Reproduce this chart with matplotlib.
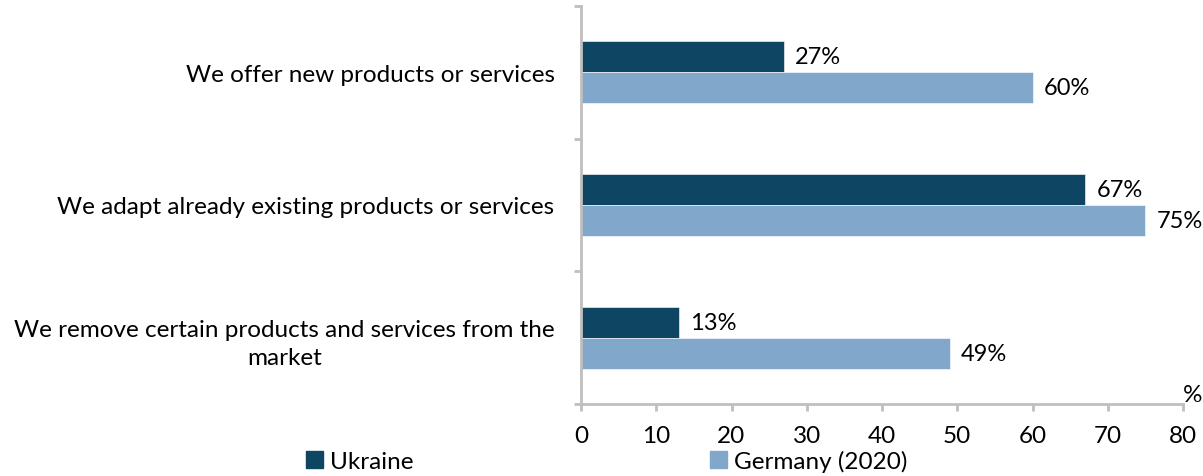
import matplotlib
matplotlib.use("Agg")
import matplotlib.pyplot as plt
from matplotlib.patches import Patch
import numpy as np

categories = [
    "We offer new products or services",
    "We adapt already existing products or services",
    "We remove certain products and services from the\nmarket",
]
ukraine = [27, 67, 13]
germany = [60, 75, 49]
series_names = ["Ukraine", "Germany (2020)"]
x_ticks = [0, 10, 20, 30, 40, 50, 60, 70, 80]

c_ukr = "#0E4563"
c_ger = "#81A7CB"
axis_grey = "#BFBFBF"
font = "Lato"
fs = 17.5
fs_val = 17

plt.rcParams["font.family"] = [font, "DejaVu Sans"]

fig = plt.figure(figsize=(12.03, 4.77), dpi=100)
ax = fig.add_axes([581 / 1203, 72 / 477, 602 / 1203, 398 / 477])

y = np.arange(len(categories))
h = 0.234
ax.barh(y - h / 2, ukraine, height=h, color=c_ukr, edgecolor="white", linewidth=0.4)
ax.barh(y + h / 2, germany, height=h, color=c_ger, edgecolor="white", linewidth=0.4)

for yi, v in zip(y, ukraine):
    ax.annotate(f"{v}%", (v, yi - h / 2), xytext=(8, 0), textcoords="offset points",
                va="center", ha="left", fontsize=fs_val)
for yi, v in zip(y, germany):
    ax.annotate(f"{v}%", (v, yi + h / 2), xytext=(8, 0), textcoords="offset points",
                va="center", ha="left", fontsize=fs_val)

ax.set_xlim(0, 80)
ax.set_ylim(len(categories) - 0.5, -0.5)
ax.set_xticks(x_ticks)
ax.set_xticklabels([str(t) for t in x_ticks], fontsize=fs)
ax.set_yticks(y)
ax.set_yticklabels(categories, fontsize=fs, ha="right", multialignment="center",
                   linespacing=1.45)
ax.set_yticks(np.arange(-0.5, len(categories)), minor=True)

for s in ["top", "right"]:
    ax.spines[s].set_visible(False)
for s in ["left", "bottom"]:
    ax.spines[s].set_color(axis_grey)
    ax.spines[s].set_linewidth(2)

ax.tick_params(axis="y", which="major", length=0, pad=19)
ax.tick_params(axis="y", which="minor", length=5, width=2, color=axis_grey, direction="out")
ax.tick_params(axis="x", length=5, width=2, color=axis_grey, direction="out", pad=10)

fig.text(1183 / 1203, 1 - 396 / 477, "%", fontsize=fs, ha="left", va="center")

handles = [Patch(color=c_ukr), Patch(color=c_ger)]
fig.legend(handles, series_names, loc="lower left", bbox_to_anchor=(296 / 1203, -0.012),
           ncol=2, frameon=False, fontsize=fs, handlelength=0.7, handleheight=0.7,
           handletextpad=0.3, columnspacing=12.2, borderaxespad=0)

fig.savefig("out.png", dpi=100)
